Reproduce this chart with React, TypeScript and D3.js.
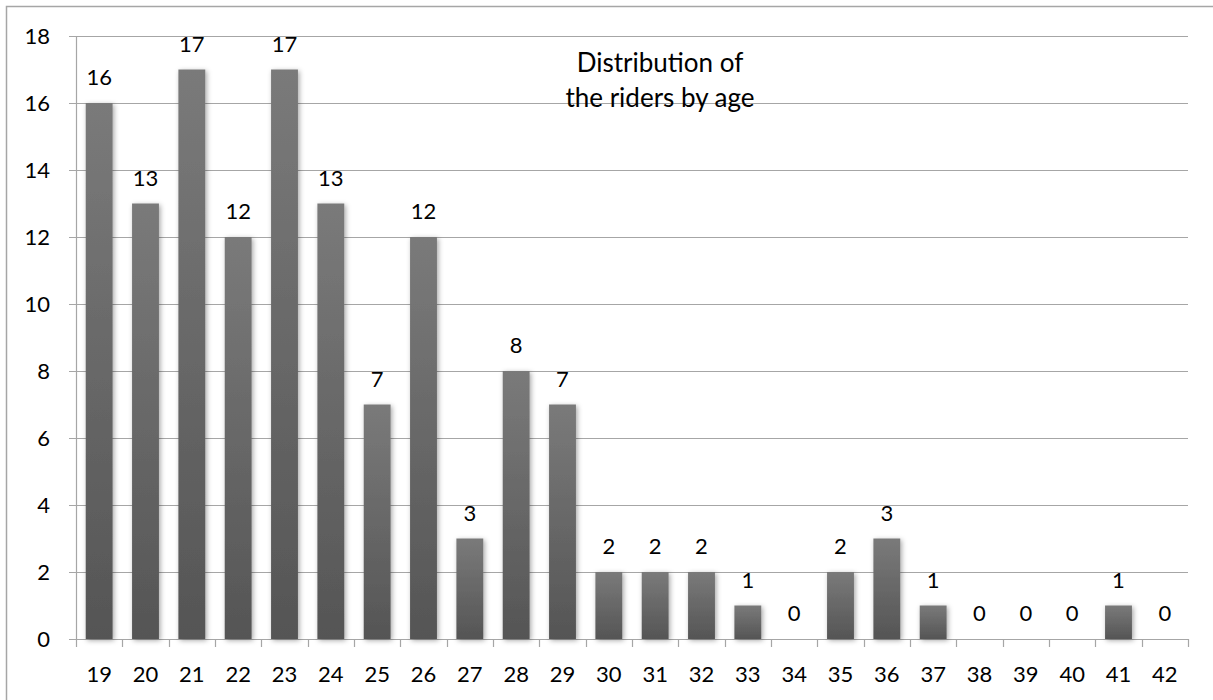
import { useRef, useEffect } from 'react'
import * as d3 from 'd3'

const ages = ['19', '20', '21', '22', '23', '24', '25', '26', '27', '28', '29', '30', '31', '32', '33', '34', '35', '36', '37', '38', '39', '40', '41', '42']
const riders = [16, 13, 17, 12, 17, 13, 7, 12, 3, 8, 7, 2, 2, 2, 1, 0, 2, 3, 1, 0, 0, 0, 1, 0]
const yTicks = [0, 2, 4, 6, 8, 10, 12, 14, 16, 18]
const titleLines = ['Distribution of', 'the riders by age']

const W = 1213
const H = 700
const FONT = 'Lato, "Open Sans", sans-serif'
const FS = 22

export default function App() {
  const ref = useRef<SVGSVGElement>(null)

  useEffect(() => {
    if (!ref.current) return
    const svg = d3.select(ref.current)
    svg.selectAll('*').remove()

    const margin = { top: 36, right: 25, bottom: 61, left: 76 }
    const innerW = W - margin.left - margin.right
    const innerH = H - margin.top - margin.bottom

    const defs = svg.append('defs')
    const grad = defs
      .append('linearGradient')
      .attr('id', 'barGrad')
      .attr('x1', 0)
      .attr('y1', 0)
      .attr('x2', 0)
      .attr('y2', 1)
    grad.append('stop').attr('offset', '0%').attr('stop-color', '#7a7a7a')
    grad.append('stop').attr('offset', '100%').attr('stop-color', '#555555')

    const shadow = defs
      .append('filter')
      .attr('id', 'barShadow')
      .attr('x', '-30%')
      .attr('y', '-10%')
      .attr('width', '160%')
      .attr('height', '130%')
    shadow
      .append('feDropShadow')
      .attr('dx', 1.5)
      .attr('dy', 1.5)
      .attr('stdDeviation', 2.5)
      .attr('flood-color', '#000')
      .attr('flood-opacity', 0.35)

    // outer chart border (runs off the picture on the right and bottom)
    svg
      .append('rect')
      .attr('x', 6.5)
      .attr('y', 6.5)
      .attr('width', W + 20)
      .attr('height', H + 20)
      .attr('fill', '#fff')
      .attr('stroke', '#a6a6a6')
      .attr('stroke-width', 1.5)

    const g = svg.append('g').attr('transform', `translate(${margin.left},${margin.top})`)

    const x = d3.scaleBand().domain(ages).range([0, innerW]).paddingInner(0.42).paddingOuter(0.21)
    const xEdges = d3.scaleLinear().domain([0, ages.length]).range([0, innerW])
    const y = d3.scaleLinear().domain([0, 18]).range([innerH, 0])

    // grid lines with left ticks
    g.append('g')
      .selectAll('line')
      .data(yTicks)
      .join('line')
      .attr('x1', -7)
      .attr('x2', innerW)
      .attr('y1', (d) => Math.round(y(d)) + 0.5)
      .attr('y2', (d) => Math.round(y(d)) + 0.5)
      .attr('stroke', '#a6a6a6')
      .attr('stroke-width', 1.2)

    // vertical axis line
    g.append('line')
      .attr('x1', 0.5)
      .attr('x2', 0.5)
      .attr('y1', 0)
      .attr('y2', innerH)
      .attr('stroke', '#a6a6a6')
      .attr('stroke-width', 1.2)

    // x category ticks
    g.append('g')
      .selectAll('line')
      .data(d3.range(ages.length + 1))
      .join('line')
      .attr('x1', (d) => Math.round(xEdges(d)) + 0.5)
      .attr('x2', (d) => Math.round(xEdges(d)) + 0.5)
      .attr('y1', innerH)
      .attr('y2', innerH + 8)
      .attr('stroke', '#a6a6a6')
      .attr('stroke-width', 1.2)

    // y labels
    g.append('g')
      .selectAll('text')
      .data(yTicks)
      .join('text')
      .attr('x', -26)
      .attr('y', (d) => y(d))
      .attr('dy', '0.36em')
      .attr('text-anchor', 'end')
      .attr('font-family', FONT)
      .attr('font-size', FS)
      .attr('fill', '#000')
      .text((d) => d)

    // x labels
    g.append('g')
      .selectAll('text')
      .data(ages)
      .join('text')
      .attr('x', (d) => x(d)! + x.bandwidth() / 2)
      .attr('y', innerH + 43)
      .attr('text-anchor', 'middle')
      .attr('font-family', FONT)
      .attr('font-size', FS)
      .attr('fill', '#000')
      .text((d) => d)

    // bars
    g.append('g')
      .selectAll('rect')
      .data(riders.map((v, i) => ({ age: ages[i], v })).filter((d) => d.v > 0))
      .join('rect')
      .attr('x', (d) => x(d.age)!)
      .attr('y', (d) => y(d.v))
      .attr('width', x.bandwidth())
      .attr('height', (d) => innerH - y(d.v))
      .attr('fill', 'url(#barGrad)')
      .attr('filter', 'url(#barShadow)')

    // value labels
    g.append('g')
      .selectAll('text')
      .data(riders.map((v, i) => ({ age: ages[i], v })))
      .join('text')
      .attr('x', (d) => x(d.age)! + x.bandwidth() / 2)
      .attr('y', (d) => y(d.v) - 18)
      .attr('text-anchor', 'middle')
      .attr('font-family', FONT)
      .attr('font-size', FS)
      .attr('fill', '#000')
      .text((d) => d.v)

    // title inside plot
    svg
      .append('g')
      .selectAll('text')
      .data(titleLines)
      .join('text')
      .attr('x', 660)
      .attr('y', (_, i) => 72 + i * 35)
      .attr('text-anchor', 'middle')
      .attr('font-family', FONT)
      .attr('font-size', 26)
      .attr('fill', '#000')
      .text((d) => d)
  }, [])

  return (
    <svg
      ref={ref}
      width={W}
      height={H}
      style={{ position: 'absolute', left: 0, top: 0, background: '#fff' }}
    />
  )
}
